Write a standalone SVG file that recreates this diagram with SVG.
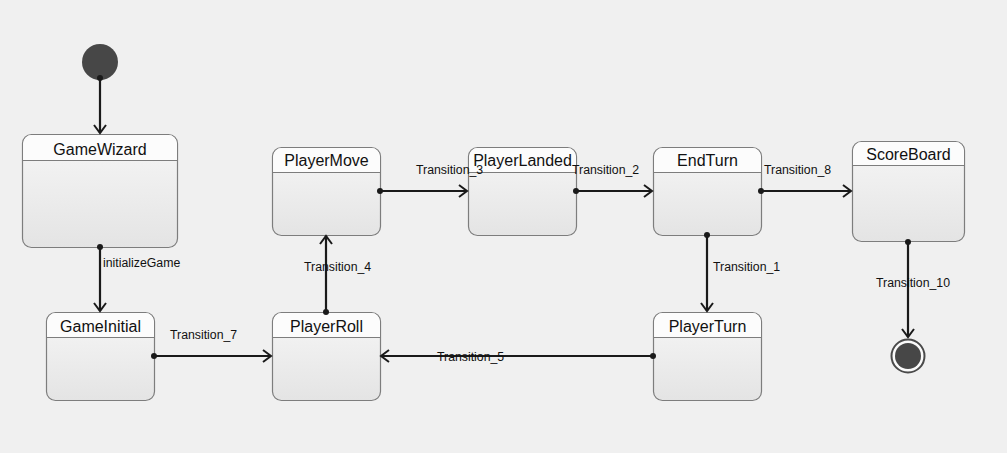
<svg xmlns="http://www.w3.org/2000/svg" width="1007" height="453" viewBox="0 0 1007 453">
<defs>
<linearGradient id="body" x1="0" y1="0" x2="0" y2="1">
<stop offset="0" stop-color="#f6f6f6"/>
<stop offset="1" stop-color="#e4e4e4"/>
</linearGradient>
<marker id="arr" markerUnits="userSpaceOnUse" markerWidth="14" markerHeight="14" viewBox="0 0 14 14" refX="12" refY="7" orient="auto">
<path d="M4,1 L12,7 L4,13" fill="none" stroke="#1a1a1a" stroke-width="2"/>
</marker>
<marker id="dot" markerUnits="userSpaceOnUse" markerWidth="8" markerHeight="8" viewBox="0 0 8 8" refX="4" refY="4">
<circle cx="4" cy="4" r="3" fill="#1a1a1a"/>
</marker>
</defs>
<style>
.box{fill:url(#body);stroke:#7d7d7d;stroke-width:1.2}
.hdr{fill:#fcfcfc}
.div{stroke:#7d7d7d;stroke-width:1}
.title{font-family:"Liberation Sans",Arial,sans-serif;font-size:16px;fill:#111;text-anchor:middle}
.lbl{font-family:"Liberation Sans",Arial,sans-serif;font-size:12.3px;fill:#111}
.edge{stroke:#1a1a1a;stroke-width:2.2;fill:none;marker-end:url(#arr);marker-start:url(#dot)}
</style>
<rect width="1007" height="453" fill="#f0f0f0"/>

<g id="initial">
<circle cx="100" cy="62" r="18" fill="#474747"/>
</g>

<g id="GameWizard">
<rect class="box" x="22.5" y="134.5" width="155" height="113" rx="9"/>
<path class="hdr" d="M23.1,160 V143.5 a9,9 0 0 1 9,-8.4 H168 a9,9 0 0 1 9,8.4 V160 Z"/>
<line class="div" x1="23" y1="160.5" x2="177" y2="160.5"/>
<text class="title" x="100" y="155">GameWizard</text>
</g>

<g id="GameInitial">
<rect class="box" x="46.5" y="312.5" width="108" height="88" rx="9"/>
<path class="hdr" d="M47.1,337 V321.5 a9,9 0 0 1 9,-8.4 H145 a9,9 0 0 1 9,8.4 V337 Z"/>
<line class="div" x1="47" y1="337.5" x2="154" y2="337.5"/>
<text class="title" x="100.5" y="332">GameInitial</text>
</g>

<g id="PlayerRoll">
<rect class="box" x="272.5" y="312.5" width="108" height="88" rx="9"/>
<path class="hdr" d="M273.1,337 V321.5 a9,9 0 0 1 9,-8.4 H371 a9,9 0 0 1 9,8.4 V337 Z"/>
<line class="div" x1="273" y1="337.5" x2="380" y2="337.5"/>
<text class="title" x="326.5" y="332">PlayerRoll</text>
</g>

<g id="PlayerMove">
<rect class="box" x="272.5" y="147.5" width="108" height="88" rx="9"/>
<path class="hdr" d="M273.1,172 V156.5 a9,9 0 0 1 9,-8.4 H371 a9,9 0 0 1 9,8.4 V172 Z"/>
<line class="div" x1="273" y1="172.5" x2="380" y2="172.5"/>
<text class="title" x="326.5" y="166">PlayerMove</text>
</g>

<g id="PlayerLanded">
<rect class="box" x="468.5" y="147.5" width="108" height="88" rx="9"/>
<path class="hdr" d="M469.1,172 V156.5 a9,9 0 0 1 9,-8.4 H567 a9,9 0 0 1 9,8.4 V172 Z"/>
<line class="div" x1="469" y1="172.5" x2="576" y2="172.5"/>
<text class="title" x="522.5" y="166">PlayerLanded</text>
</g>

<g id="EndTurn">
<rect class="box" x="653.5" y="147.5" width="108" height="88" rx="9"/>
<path class="hdr" d="M654.1,172 V156.5 a9,9 0 0 1 9,-8.4 H752 a9,9 0 0 1 9,8.4 V172 Z"/>
<line class="div" x1="654" y1="172.5" x2="761" y2="172.5"/>
<text class="title" x="707.5" y="166">EndTurn</text>
</g>

<g id="PlayerTurn">
<rect class="box" x="653.5" y="312.5" width="108" height="88" rx="9"/>
<path class="hdr" d="M654.1,337 V321.5 a9,9 0 0 1 9,-8.4 H752 a9,9 0 0 1 9,8.4 V337 Z"/>
<line class="div" x1="654" y1="337.5" x2="761" y2="337.5"/>
<text class="title" x="707.5" y="332">PlayerTurn</text>
</g>

<g id="ScoreBoard">
<rect class="box" x="852.5" y="141.5" width="112" height="100" rx="9"/>
<path class="hdr" d="M853.1,165 V150.5 a9,9 0 0 1 9,-8.4 H955 a9,9 0 0 1 9,8.4 V165 Z"/>
<line class="div" x1="853" y1="165.5" x2="964" y2="165.5"/>
<text class="title" x="908.5" y="160">ScoreBoard</text>
</g>

<g id="final">
<circle cx="908" cy="356" r="16.5" fill="#fafafa" stroke="#4a4a4a" stroke-width="2"/>
<circle cx="908" cy="356" r="13" fill="#474747"/>
</g>

<g id="connectors">
<line class="edge" x1="100" y1="78" x2="100" y2="133"/>
<line class="edge" x1="100" y1="247" x2="100" y2="311"/>
<line class="edge" x1="154" y1="356" x2="271" y2="356"/>
<line class="edge" x1="326" y1="312" x2="326" y2="236"/>
<line class="edge" x1="380" y1="191" x2="467" y2="191"/>
<line class="edge" x1="576" y1="191" x2="652" y2="191"/>
<line class="edge" x1="761" y1="191" x2="851" y2="191"/>
<line class="edge" x1="707" y1="235" x2="707" y2="311"/>
<line class="edge" x1="653" y1="356" x2="381" y2="356"/>
<line class="edge" x1="908" y1="242" x2="908" y2="337"/>
<text class="lbl" x="103" y="267">initializeGame</text>
<text class="lbl" x="170" y="339">Transition_7</text>
<text class="lbl" x="304" y="271">Transition_4</text>
<text class="lbl" x="416" y="174">Transition_3</text>
<text class="lbl" x="572" y="174">Transition_2</text>
<text class="lbl" x="764" y="174">Transition_8</text>
<text class="lbl" x="713" y="271">Transition_1</text>
<text class="lbl" x="437" y="361">Transition_5</text>
<text class="lbl" x="876" y="287">Transition_10</text>
</g>
</svg>
